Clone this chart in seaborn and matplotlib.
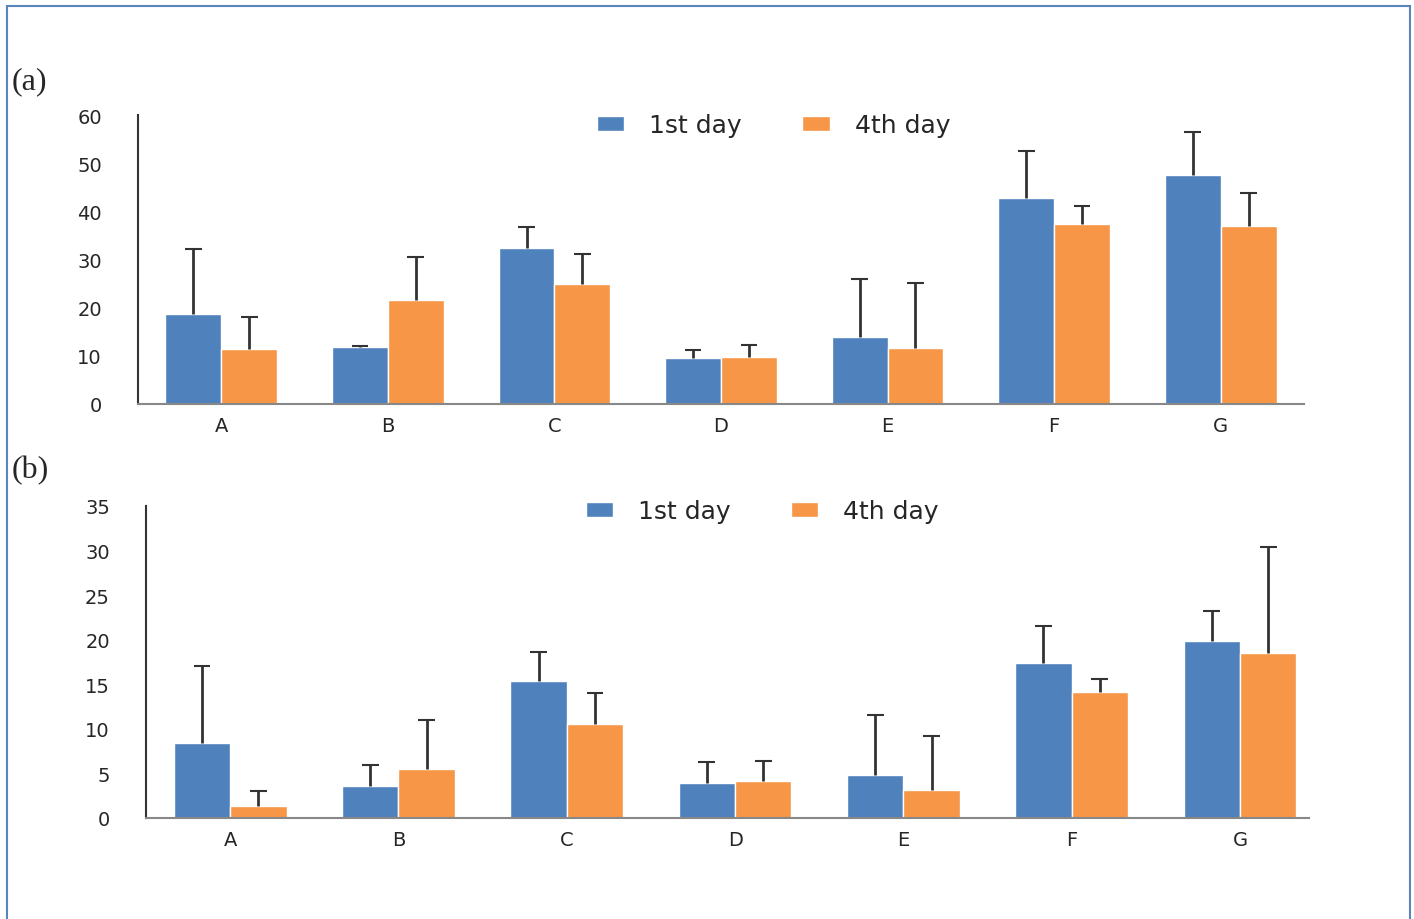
import pandas as pd
import matplotlib.pyplot as plt
import seaborn as sns
from matplotlib.patches import Rectangle

groups = ['A', 'B', 'C', 'D', 'E', 'F', 'G']
days = ['1st day', '4th day']

# panel (a)
a_day1 = [18.7, 11.8, 32.4, 9.5, 14.0, 42.7, 47.5]
a_day4 = [11.4, 21.6, 24.9, 9.8, 11.6, 37.3, 37.0]
a_err1 = [13.5, 0.2, 4.3, 1.7, 11.9, 9.8, 9.0]
a_err4 = [6.7, 8.9, 6.2, 2.4, 13.5, 3.9, 6.8]

# panel (b)
b_day1 = [8.4, 3.55, 15.4, 3.9, 4.8, 17.4, 19.9]
b_day4 = [1.35, 5.5, 10.5, 4.15, 3.15, 14.1, 18.5]
b_err1 = [8.6, 2.45, 3.2, 2.4, 6.7, 4.1, 3.3]
b_err4 = [1.7, 5.45, 3.5, 2.25, 6.05, 1.5, 11.9]

colors = ['#4F81BD', '#F79646']

sns.set_style('white')
plt.rcParams['font.family'] = ['DejaVu Sans']

fig = plt.figure(figsize=(14.14, 9.2), dpi=100)

# blue frame around the figure
fig.patches.append(Rectangle((7 / 1414, -0.1), 1403 / 1414, 1.1 - 7 / 920,
                             transform=fig.transFigure, fill=False,
                             edgecolor='#5B84BA', linewidth=1.5))

ax_a = fig.add_axes([138 / 1414, 1 - 405 / 920, 1166 / 1414, 289 / 920])
ax_b = fig.add_axes([146 / 1414, 1 - 819 / 920, 1163 / 1414, 312 / 920])


def draw_panel(ax, v1, v4, e1, e4, ymax, ystep, xmax, legend_x, legend_y, label, label_y):
    df = pd.DataFrame({
        'group': groups * 2,
        'day': [days[0]] * len(groups) + [days[1]] * len(groups),
        'value': v1 + v4,
    })
    sns.barplot(data=df, x='group', y='value', hue='day', palette=colors, saturation=1,
                width=0.67, edgecolor='white', linewidth=1, errorbar=None, ax=ax)
    # upper error bars only
    for cont, errs in zip(ax.containers, [e1, e4]):
        xs = [p.get_x() + p.get_width() / 2 for p in cont.patches]
        ys = [p.get_height() for p in cont.patches]
        tops = [y + e for y, e in zip(ys, errs)]
        ax.vlines(xs, ys, tops, color='#333333', linewidth=2, zorder=3)
        ax.hlines(tops, [x - 0.05 for x in xs], [x + 0.05 for x in xs],
                  color='#333333', linewidth=1.5, zorder=3)
    ax.set_xlim(-0.5, xmax)
    ax.set_ylim(0, ymax)
    ax.set_yticks(range(0, ymax + 1, ystep))
    ax.set_xlabel('')
    ax.set_ylabel('')
    ax.tick_params(axis='y', length=0, pad=26, labelsize=14)
    ax.tick_params(axis='x', length=0, pad=9, labelsize=14)
    sns.despine(ax=ax)
    ax.spines['left'].set_color('#333333')
    ax.spines['left'].set_linewidth(1.5)
    ax.spines['bottom'].set_color('#888888')
    ax.spines['bottom'].set_linewidth(1.5)
    ax.legend(loc='center', bbox_to_anchor=(legend_x, legend_y), ncol=2,
              frameon=False, fontsize=18, handlelength=1.1, handleheight=0.55,
              columnspacing=2.4, handletextpad=1.0)
    fig.text(12 / 1414, label_y, label, family='Liberation Serif', fontsize=23,
             va='center', ha='left')


draw_panel(ax_a, a_day1, a_day4, a_err1, a_err4, 60, 10, 6.5, 0.545, 0.965, '(a)', 1 - 82 / 920)
draw_panel(ax_b, b_day1, b_day4, b_err1, b_err4, 35, 5, 6.41, 0.53, 0.984, '(b)', 1 - 471 / 920)

fig.savefig('out.png', dpi=100)
